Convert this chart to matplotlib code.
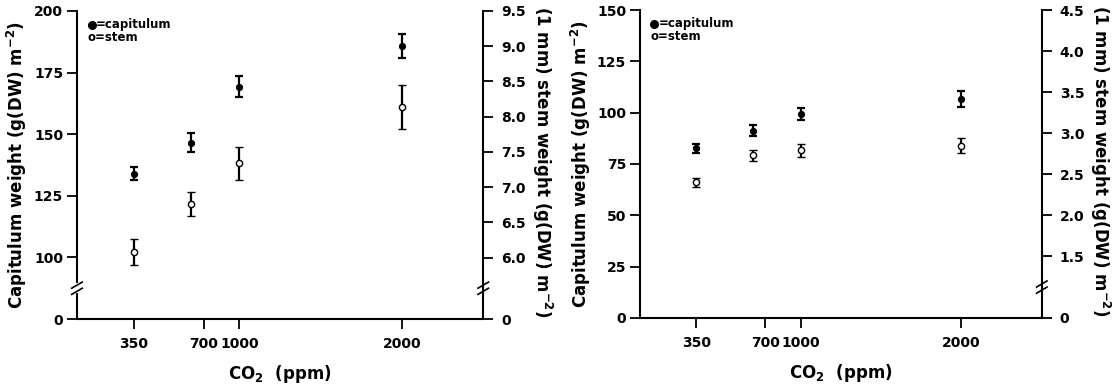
import numpy as np
import matplotlib
matplotlib.use("Agg")
import matplotlib.pyplot as plt

plt.rcParams['font.family'] = ['DejaVu Sans']
plt.rcParams['font.weight'] = 'bold'
plt.rcParams['mathtext.fontset'] = 'custom'
plt.rcParams['mathtext.rm'] = 'DejaVu Sans:bold'
plt.rcParams['mathtext.it'] = 'DejaVu Sans:bold'
plt.rcParams['mathtext.bf'] = 'DejaVu Sans:bold'
plt.rcParams['mathtext.default'] = 'rm'

# CO2 treatments (ppm)
co2 = [350, 700, 1000, 2000]
xtick_pos = [350, 780, 1000, 2000]
xtick_labels = ['350', '700', '1000', '2000']

# left panel
cap_a = [134.0, 146.5, 169.3, 185.8]
cap_a_err = [2.8, 3.9, 4.3, 4.7]
stem_a = [6.08, 6.76, 7.34, 8.14]
stem_a_err = [0.18, 0.17, 0.235, 0.31]
left_ticks_a = [75, 100, 125, 150, 175, 200]
left_labels_a = ['0', '100', '125', '150', '175', '200']
right_ticks_a = [5.13, 6.0, 6.5, 7.0, 7.5, 8.0, 8.5, 9.0, 9.5]
right_labels_a = ['0', '6.0', '6.5', '7.0', '7.5', '8.0', '8.5', '9.0', '9.5']

# right panel
cap_b = [82.7, 91.3, 99.4, 106.6]
cap_b_err = [2.1, 2.6, 3.1, 3.9]
stem_b = [2.40, 2.73, 2.79, 2.85]
stem_b_err = [0.055, 0.07, 0.075, 0.09]
left_ticks_b = [0, 25, 50, 75, 100, 125, 150]
left_labels_b = ['0', '25', '50', '75', '100', '125', '150']
right_ticks_b = [0.75, 1.5, 2.0, 2.5, 3.0, 3.5, 4.0, 4.5]
right_labels_b = ['0', '1.5', '2.0', '2.5', '3.0', '3.5', '4.0', '4.5']

fig = plt.figure(figsize=(11.16, 3.9), dpi=100)
axA = fig.add_axes([0.069, 0.182, 0.364, 0.790])
axB = fig.add_axes([0.5735, 0.185, 0.360, 0.789])

TICKFS = 10
LABFS = 12


def break_mark(ax, x, y):
    # white gap over the spine, then two slanted strokes
    tr = ax.transAxes
    ax.plot([x, x], [y - 0.010, y + 0.010], color='white', lw=3,
            transform=tr, clip_on=False, zorder=10)
    dx, dy = 0.013, 0.010
    for off in (-0.010, 0.010):
        ax.plot([x - dx, x + dx], [y + off - dy, y + off + dy], color='black',
                lw=1.2, transform=tr, clip_on=False, zorder=11)


def panel(ax, cap, cap_err, stem, stem_err, lt, ll, rt, rl, left_break):
    ax2 = ax.twinx()
    ax.errorbar(co2, cap, yerr=cap_err, fmt='o', color='black', ms=4.2,
                elinewidth=1.6, capsize=3, capthick=1.6)
    ax2.errorbar(co2, stem, yerr=stem_err, fmt='o', color='black', ms=4.5,
                 mfc='white', mew=1.0, elinewidth=1.6, capsize=3, capthick=1.6)
    ax.set_xlim(0, 2500)
    ax.set_ylim(lt[0], lt[-1])
    ax2.set_ylim(rt[0], rt[-1])
    ax.set_xticks(xtick_pos)
    ax.set_xticklabels(xtick_labels)
    ax.set_yticks(lt)
    ax.set_yticklabels(ll)
    ax2.set_yticks(rt)
    ax2.set_yticklabels(rl)
    for a in (ax, ax2):
        a.spines['top'].set_visible(False)
        for s in a.spines.values():
            s.set_linewidth(1.5)
        a.tick_params(direction='out', length=7, width=1.3, labelsize=TICKFS)
    ax.spines['right'].set_visible(False)
    ax2.spines['left'].set_visible(False)
    ax2.spines['bottom'].set_visible(False)
    ax.tick_params(axis='x', pad=6)
    ax.tick_params(axis='y', pad=3)
    ax2.tick_params(axis='y', pad=6)
    ax.set_xlabel('CO$_2$  (ppm)', fontsize=LABFS, fontweight='bold')
    ax.xaxis.label.set_va('center')
    ax.xaxis.set_label_coords(0.5, -0.18)
    ax.set_ylabel('Capitulum weight (g(DW) m$^{-2}$)', fontsize=LABFS,
                  fontweight='bold')
    ax.yaxis.label.set_va('center')
    ax.yaxis.set_label_coords(-0.148, 0.5)
    ax2.set_ylabel('(1 mm) stem weight (g(DW) m$^{-2}$)', fontsize=LABFS,
                   fontweight='bold', rotation=270, va='center')
    ax2.yaxis.set_label_coords(1.145, 0.51)
    # key in the upper-left corner
    ax.plot([0.036], [0.955], 'o', color='black', ms=5.5,
            transform=ax.transAxes, clip_on=False)
    ax.text(0.047, 0.955, '=capitulum', transform=ax.transAxes,
            fontsize=8.5, fontweight='bold', va='center')
    ax.text(0.026, 0.915, 'o=stem', transform=ax.transAxes,
            fontsize=8.5, fontweight='bold', va='center')
    if left_break:
        break_mark(ax, 0.0, 0.1)
    break_mark(ax, 1.0, 0.1)


panel(axA, cap_a, cap_a_err, stem_a, stem_a_err,
      left_ticks_a, left_labels_a, right_ticks_a, right_labels_a, True)
panel(axB, cap_b, cap_b_err, stem_b, stem_b_err,
      left_ticks_b, left_labels_b, right_ticks_b, right_labels_b, False)

fig.savefig('out.png', dpi=100)
